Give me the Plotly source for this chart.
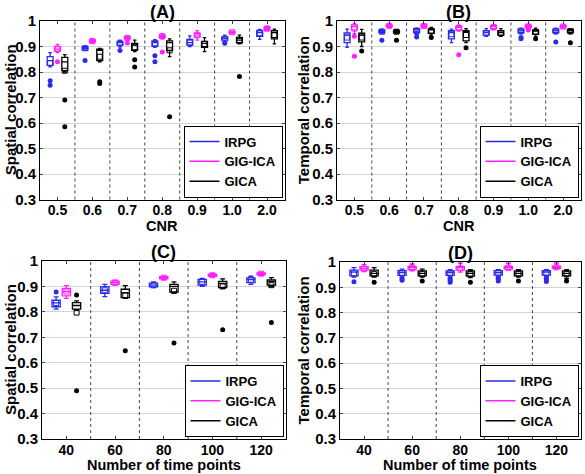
import plotly.graph_objects as go

W, H = 585, 474

# ---------------- data ----------------
cnr_labels = ["0.5", "0.6", "0.7", "0.8", "0.9", "1.0", "2.0"]
tp_labels = ["40", "60", "80", "100", "120"]
methods = ["IRPG", "GIG-ICA", "GICA"]

# Panel A: spatial correlation vs CNR  (lo, q1, median, q3, hi)
A_irpg = [[.820, .826, .845, .860, .876], [.885, .887, .893, .898, .902], [.898, .905, .915, .920, .925],
          [.897, .902, .915, .922, .927], [.900, .905, .915, .928, .942], [.915, .925, .932, .938, .945],
          [.928, .940, .955, .963, .967]]
A_irpg_mean = [.835, .893, .912, .910, .915, .930, .952]
A_irpg_out = [[.766, .748], [.845], [.884], [.864, .840], [], [.913], []]
A_gig = [[.876, .882, .890, .900, .908], [.914, .917, .922, .926, .930], [.925, .930, .935, .938, .940],
         [.930, .935, .940, .944, .950], [.925, .937, .945, .952, .962], [.951, .953, .956, .958, .960],
         [.962, .966, .971, .976, .980]]
A_gig_mean = [.890, .921, .934, .940, .944, .956, .970]
A_gig_out = [[.840], [], [.914], [.878], [], [], []]
A_gica = [[.800, .805, .840, .857, .868], [.840, .845, .885, .890, .893], [.880, .885, .905, .912, .925],
          [.860, .885, .915, .922, .930], [.880, .897, .912, .920, .935], [.910, .915, .925, .936, .945],
          [.910, .930, .955, .962, .968]]
A_gica_mean = [.805, .860, .897, .885, .910, .922, .945]
A_gica_out = [[.690, .585], [.762, .755], [.848, .820], [.625], [], [.782], []]

# Panel B: temporal correlation vs CNR
B_irpg = [[.897, .915, .945, .953, .968], [.952, .955, .960, .965, .968], [.950, .955, .965, .970, .972],
          [.915, .930, .955, .962, .968], [.940, .945, .955, .962, .970], [.950, .955, .962, .968, .972],
          [.950, .955, .962, .968, .972]]
B_irpg_mean = [.935, .958, .962, .948, .952, .960, .960]
B_irpg_out = [[], [.925], [.952, .937], [], [], [.935, .930], [.918]]
B_gig = [[.950, .965, .978, .985, .990], [.975, .978, .982, .985, .988], [.975, .977, .981, .985, .988],
         [.960, .965, .975, .980, .985], [.965, .970, .978, .982, .986], [.970, .975, .980, .984, .988],
         [.972, .975, .979, .982, .985]]
B_gig_mean = [.970, .981, .980, .972, .976, .978, .978]
B_gig_out = [[.940, .862], [], [], [.868], [], [.965], []]
B_gica = [[.900, .918, .945, .952, .967], [.952, .954, .960, .963, .966], [.945, .952, .965, .969, .975],
          [.915, .922, .958, .962, .970], [.940, .945, .955, .962, .970], [.940, .948, .960, .965, .972],
          [.950, .955, .962, .967, .970]]
B_gica_mean = [.935, .958, .960, .945, .952, .957, .960]
B_gica_out = [[.882], [.925], [.935], [.895], [], [.930], [.915]]

# Panel C: spatial correlation vs number of time points
C_irpg = [[.811, .820, .835, .846, .859], [.860, .873, .885, .899, .908], [.895, .898, .905, .913, .918],
          [.900, .905, .918, .928, .932], [.908, .915, .927, .934, .940]]
C_irpg_mean = [.835, .885, .905, .918, .926]
C_irpg_out = [[.878], [], [], [], []]
C_gig = [[.853, .863, .880, .892, .903], [.905, .908, .915, .921, .925], [.928, .930, .935, .938, .940],
         [.938, .940, .945, .948, .950], [.944, .946, .950, .953, .956]]
C_gig_mean = [.880, .915, .934, .944, .950]
C_gig_out = [[], [], [], [], []]
C_gica = [[.807, .811, .825, .836, .843], [.853, .856, .875, .889, .903], [.875, .878, .900, .908, .918],
          [.892, .895, .912, .920, .930], [.900, .905, .920, .926, .935]]
C_gica_mean = [.797, .865, .883, .900, .905]
C_gica_out = [[.866, .490], [.647], [.678], [.730], [.758]]

# Panel D: temporal correlation vs number of time points
D_irpg = [[.940, .945, .960, .968, .978], [.940, .947, .958, .966, .972], [.940, .947, .958, .965, .970],
          [.940, .948, .958, .966, .970], [.940, .948, .960, .966, .970]]
D_irpg_mean = [.955, .955, .955, .956, .956]
D_irpg_out = [[.922], [.935, .928], [.935, .928, .920], [.938, .932, .925], [.938, .930, .923]]
D_gig = [[.962, .968, .975, .982, .990], [.965, .970, .978, .983, .992], [.960, .968, .978, .982, .995],
         [.968, .972, .979, .983, .995], [.972, .975, .980, .984, .996]]
D_gig_mean = [.974, .977, .975, .978, .979]
D_gig_out = [[], [], [], [], []]
D_gica = [[.940, .945, .955, .968, .978], [.940, .945, .955, .965, .972], [.938, .944, .955, .965, .970],
          [.940, .945, .955, .965, .970], [.935, .945, .955, .965, .970]]
D_gica_mean = [.953, .953, .952, .953, .953]
D_gica_out = [[.920], [.925], [.920], [.925], [.925]]

# ---------------- styling ----------------
colors = {"IRPG": "#2b2be8", "GIG-ICA": "#ff22ff", "GICA": "#000000"}
offsets = {"IRPG": -0.21, "GIG-ICA": 0.0, "GICA": 0.21}
FONT = "Liberation Sans, Arial, sans-serif"


def px_x(p):
    return p / W


def px_y(p):
    return 1 - p / H


panels = [
    dict(key="A", ax="", labels=cnr_labels, xpx=(40, 284.5), ypx=(21, 199.5), ytoff=30, xtoff=25,
         data={"IRPG": (A_irpg, A_irpg_mean, A_irpg_out), "GIG-ICA": (A_gig, A_gig_mean, A_gig_out),
               "GICA": (A_gica, A_gica_mean, A_gica_out)},
         ytitle="Spatial correlation", xtitle="CNR", legend="legend"),
    dict(key="B", ax="2", labels=cnr_labels, xpx=(337, 580.5), ypx=(21, 199.5), ytoff=34, xtoff=25,
         data={"IRPG": (B_irpg, B_irpg_mean, B_irpg_out), "GIG-ICA": (B_gig, B_gig_mean, B_gig_out),
               "GICA": (B_gica, B_gica_mean, B_gica_out)},
         ytitle="Temporal correlation", xtitle="CNR", legend="legend2"),
    dict(key="C", ax="3", labels=tp_labels, xpx=(42, 285.5), ypx=(261, 439), ytoff=32, xtoff=25,
         data={"IRPG": (C_irpg, C_irpg_mean, C_irpg_out), "GIG-ICA": (C_gig, C_gig_mean, C_gig_out),
               "GICA": (C_gica, C_gica_mean, C_gica_out)},
         ytitle="Spatial correlation", xtitle="Number of time points", legend="legend3"),
    dict(key="D", ax="4", labels=tp_labels, xpx=(340, 580.5), ypx=(262, 439), ytoff=37, xtoff=25,
         data={"IRPG": (D_irpg, D_irpg_mean, D_irpg_out), "GIG-ICA": (D_gig, D_gig_mean, D_gig_out),
               "GICA": (D_gica, D_gica_mean, D_gica_out)},
         ytitle="Temporal correlation", xtitle="Number of time points", legend="legend4"),
]

fig = go.Figure()
shapes = []
annotations = []
layout = {}

for p in panels:
    xa = "x" + p["ax"]
    ya = "y" + p["ax"]
    n = len(p["labels"])
    groups = list(range(1, n + 1))
    for m in methods:
        stats, means, outs = p["data"][m]
        xs = [g + offsets[m] for g in groups]
        fig.add_trace(go.Box(
            x=xs, lowerfence=[s[0] for s in stats], q1=[s[1] for s in stats],
            median=[s[2] for s in stats], q3=[s[3] for s in stats],
            upperfence=[s[4] for s in stats],
            xaxis=xa, yaxis=ya, width=0.17, whiskerwidth=0.6, boxpoints=False,
            line=dict(color=colors[m], width=1.3), fillcolor="rgba(255,255,255,0)",
            showlegend=False, hoverinfo="skip"))
        fig.add_trace(go.Scatter(
            x=xs, y=means, mode="markers", xaxis=xa, yaxis=ya, showlegend=False,
            marker=dict(symbol="square-open", size=5, color=colors[m], line=dict(width=1, color=colors[m]))))
        ox, oy = [], []
        for g, vals in zip(groups, outs):
            for v in vals:
                ox.append(g + offsets[m])
                oy.append(v)
        fig.add_trace(go.Scatter(
            x=ox, y=oy, mode="markers", xaxis=xa, yaxis=ya, showlegend=False,
            marker=dict(symbol="circle", size=5, color=colors[m])))
        # legend entries (line samples)
        fig.add_trace(go.Scatter(
            x=[None], y=[None], mode="lines", name=m, legend=p["legend"],
            line=dict(color=colors[m], width=1.5), xaxis=xa, yaxis=ya))

    # dotted group separators
    for g in groups[:-1]:
        shapes.append(dict(type="line", xref=xa, yref=ya + " domain", x0=g + 0.5, x1=g + 0.5, y0=0, y1=1,
                           line=dict(color="#444444", width=1, dash="dot"), layer="above"))

    x0, x1 = p["xpx"]
    yt, yb = p["ypx"]
    axname = "xaxis" + p["ax"]
    ayname = "yaxis" + p["ax"]
    layout[axname] = dict(domain=[px_x(x0), px_x(x1)], anchor=ya, range=[0.5, n + 0.5],
                          tickvals=groups, ticktext=p["labels"], ticks="inside", ticklen=3,
                          mirror="ticks", showline=True, linecolor="black", linewidth=1,
                          showgrid=False, zeroline=False, tickfont=dict(size=14),
                          ticklabelstandoff=-2, automargin=False)
    layout[ayname] = dict(domain=[px_y(yb), px_y(yt)], anchor=xa, range=[0.3, 1.0],
                          tickvals=[0.3, 0.4, 0.5, 0.6, 0.7, 0.8, 0.9, 1.0],
                          ticktext=["0.3", "0.4", "0.5", "0.6", "0.7", "0.8", "0.9", "1"],
                          ticks="inside", ticklen=3, mirror="ticks", showline=True,
                          linecolor="black", linewidth=1, showgrid=True, gridcolor="#d4d4d4",
                          gridwidth=1, zeroline=False, tickfont=dict(size=15), automargin=False)
    xc = (x0 + x1) / 2
    annotations.append(dict(text="(" + p["key"] + ")", x=px_x(xc), y=px_y(yt - 9), xref="paper", yref="paper",
                            showarrow=False, font=dict(size=18), xanchor="center", yanchor="middle"))
    annotations.append(dict(text=p["xtitle"], x=px_x(xc), y=px_y(yb + p["xtoff"] + 1), xref="paper",
                            yref="paper", showarrow=False, font=dict(size=14.5), xanchor="center",
                            yanchor="middle"))
    annotations.append(dict(text=p["ytitle"], x=px_x(x0 - p["ytoff"]), y=px_y((yt + yb) / 2), xref="paper",
                            yref="paper", showarrow=False, textangle=-90, font=dict(size=15),
                            xanchor="center", yanchor="middle"))
    layout[p["legend"]] = dict(x=px_x(x1 - 2), y=px_y(yb - 2), xanchor="right", yanchor="bottom",
                               bgcolor="white", bordercolor="black", borderwidth=1,
                               font=dict(size=13), tracegroupgap=0, itemwidth=30)

fig.update_layout(
    width=W, height=H, margin=dict(l=0, r=0, t=0, b=0, autoexpand=False),
    paper_bgcolor="white", plot_bgcolor="white", template="none",
    font=dict(family=FONT, size=15, color="black", weight="bold"),
    shapes=shapes, annotations=annotations, boxmode="overlay", **layout)

fig.write_html("out.html", config={"displayModeBar": False},
               post_script="document.body.style.margin='0';")
